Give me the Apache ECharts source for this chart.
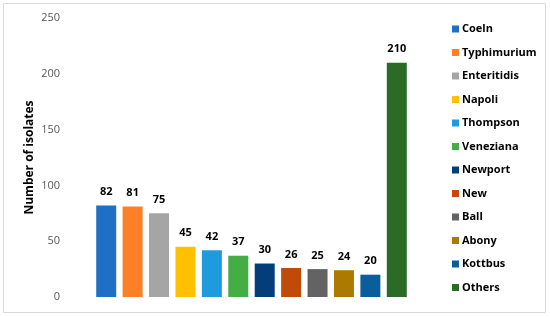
<!DOCTYPE html>
<html><head><meta charset="utf-8">
<script src="https://cdn.jsdelivr.net/npm/echarts@6/dist/echarts.min.js"></script>
<style>html,body{margin:0;padding:0;background:#fff}#c{width:550px;height:317px}</style>
</head><body><div id="c"></div>
<script>
const categories = ['Coeln','Typhimurium','Enteritidis','Napoli','Thompson','Veneziana','Newport','New','Ball','Abony','Kottbus','Others'];
const values = [82,81,75,45,42,37,30,26,25,24,20,210];
const colors = ['#1F6FC5','#FF7F27','#A5A5A5','#FFC000','#1F9BDD','#45AD45','#043E7A','#C04A08','#636363','#AD7A00','#0A5E9C','#2B6B27'];
const yTicks = {min:0, max:250, interval:50};

const FONT = 'Open Sans';
const series = categories.map((name, i) => ({
  name: name,
  type: 'bar',
  barWidth: 20,
  barGap: '-100%',
  itemStyle: {color: colors[i]},
  label: {show: true, position: 'top', distance: 8, fontFamily: FONT, fontWeight: 'bold', fontSize: 11, color: '#000'},
  data: categories.map((c, j) => j === i ? values[i] : null)
}));
const chart = echarts.init(document.getElementById('c'), null, {renderer: 'canvas'});
chart.setOption({
  animation: false,
  textStyle: {fontFamily: FONT},
  graphic: [{type: 'rect', shape: {x: 3.5, y: 3.5, width: 542, height: 309}, style: {fill: 'none', stroke: '#d9d9d9', lineWidth: 1}}],
  grid: {left: 93, right: 140, top: 18, bottom: 20},
  xAxis: {type: 'category', data: categories, axisLine: {show: false}, axisTick: {show: false}, axisLabel: {show: false}},
  yAxis: {type: 'value', min: yTicks.min, max: yTicks.max, interval: yTicks.interval,
    name: 'Number of isolates', nameLocation: 'middle', nameGap: 57, nameMoveOverlap: false,
    nameTextStyle: {fontFamily: FONT, fontWeight: 'bold', fontSize: 12, color: '#000'},
    axisLine: {show: false}, axisTick: {show: false}, splitLine: {show: false},
    axisLabel: {fontFamily: FONT, fontSize: 11, color: '#595959', margin: 33}},
  legend: {orient: 'vertical', left: 447, top: 17, itemWidth: 7, itemHeight: 7, itemGap: 9.5, icon: 'rect',
    textStyle: {fontFamily: FONT, fontWeight: 'bold', fontSize: 11, color: '#000', lineHeight: 14, padding: [0,0,0,-2]},
    data: categories},
  series: series
});
</script></body></html>
